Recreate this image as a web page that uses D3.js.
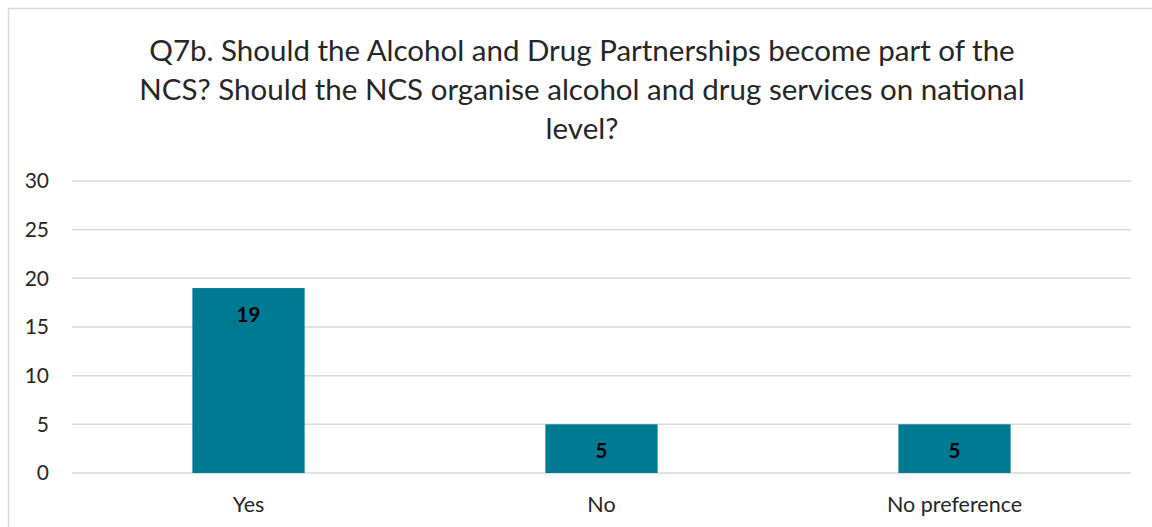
<!DOCTYPE html>
<html>
<head>
<meta charset="utf-8">
<script src="https://cdn.jsdelivr.net/npm/d3@7"></script>
<style>
  html, body { margin: 0; padding: 0; background: #fff; }
  svg { display: block; }
  text { font-family: Lato, "Open Sans", sans-serif; }
</style>
</head>
<body>
<svg id="chart" width="1152" height="527"></svg>
<script>
// Responses to Q7b
const categories = ["Yes", "No", "No preference"];
const counts = [19, 5, 5];
const yTicks = [0, 5, 10, 15, 20, 25, 30];
const titleLines = [
  "Q7b. Should the Alcohol and Drug Partnerships become part of the",
  "NCS? Should the NCS organise alcohol and drug services on national",
  "level?"
];

const svg = d3.select("#chart");
const W = 1152, H = 527;

// chart frame
svg.append("rect")
  .attr("x", 8.5).attr("y", 8.5)
  .attr("width", W + 20).attr("height", H + 20)
  .attr("fill", "#fff").attr("stroke", "#d9d9d9").attr("stroke-width", 1.5);

const plot = { left: 72, right: 1131, top: 181, bottom: 473 };

const x = d3.scaleBand()
  .domain(categories)
  .range([plot.left, plot.right])
  .paddingInner(0.682)
  .paddingOuter(0.341);

const y = d3.scaleLinear()
  .domain([0, 30])
  .range([plot.bottom, plot.top]);

// title
svg.append("g").selectAll("text")
  .data(titleLines)
  .join("text")
  .attr("x", 582)
  .attr("y", (d, i) => 61 + i * 39)
  .attr("text-anchor", "middle")
  .attr("font-size", 29.5)
  .attr("fill", "#262626")
  .text(d => d);

// gridlines
svg.append("g").selectAll("line")
  .data(yTicks)
  .join("line")
  .attr("x1", plot.left).attr("x2", plot.right)
  .attr("y1", d => y(d)).attr("y2", d => y(d))
  .attr("stroke", "#d9d9d9").attr("stroke-width", 1.5);

// y axis labels
const yAxis = d3.axisLeft(y).tickValues(yTicks).tickSize(0).tickPadding(0);
const yg = svg.append("g")
  .attr("transform", `translate(${49},0)`)
  .call(yAxis);
yg.select(".domain").remove();
yg.selectAll("text")
  .attr("font-size", 21)
  .attr("fill", "#262626")
  .attr("font-family", "Lato, 'Open Sans', sans-serif");

// bars
svg.append("g").selectAll("rect")
  .data(counts)
  .join("rect")
  .attr("x", (d, i) => x(categories[i]))
  .attr("y", d => y(d))
  .attr("width", x.bandwidth())
  .attr("height", d => y(0) - y(d))
  .attr("fill", "#007a93");

// value labels inside the bar end
svg.append("g").selectAll("text")
  .data(counts)
  .join("text")
  .attr("x", (d, i) => x(categories[i]) + x.bandwidth() / 2)
  .attr("y", d => y(d) + 34)
  .attr("text-anchor", "middle")
  .attr("font-size", 20.5)
  .attr("font-weight", "bold")
  .attr("fill", "#000")
  .text(d => d);

// x axis labels
const xAxis = d3.axisBottom(x).tickSize(0).tickPadding(0);
const xg = svg.append("g")
  .attr("transform", `translate(0,${plot.bottom + 24})`)
  .call(xAxis);
xg.select(".domain").remove();
xg.selectAll("text")
  .attr("font-size", 21.5)
  .attr("fill", "#262626")
  .attr("font-family", "Lato, 'Open Sans', sans-serif");
</script>
</body>
</html>
